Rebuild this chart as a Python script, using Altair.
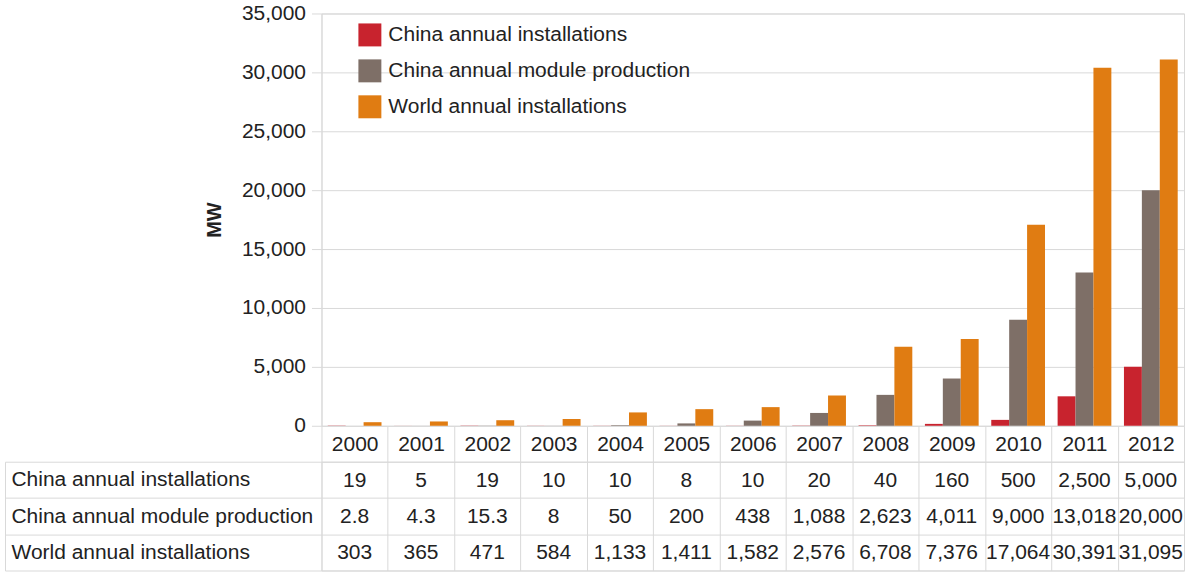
import altair as alt
import pandas as pd

years = ["2000", "2001", "2002", "2003", "2004", "2005", "2006",
         "2007", "2008", "2009", "2010", "2011", "2012"]
series = ["China annual installations",
          "China annual module production",
          "World annual installations"]
china_installations = [19, 5, 19, 10, 10, 8, 10, 20, 40, 160, 500, 2500, 5000]
china_module_production = [2.8, 4.3, 15.3, 8, 50, 200, 438, 1088, 2623, 4011,
                           9000, 13018, 20000]
world_installations = [303, 365, 471, 584, 1133, 1411, 1582, 2576, 6708, 7376,
                       17064, 30391, 31095]
colors = ["#C8232E", "#7E6F67", "#E07C12"]


def fmt(v):
    if float(v).is_integer():
        return f"{int(v):,}"
    return str(v)


rows = []
for s, vals in zip(series, [china_installations, china_module_production,
                            world_installations]):
    for yr, v in zip(years, vals):
        rows.append({"year": yr, "series": s, "value": v, "label": fmt(v)})
df = pd.DataFrame(rows)

grid = "#d9d9d9"
font = "Liberation Sans"
txt = "#222222"

bars = alt.Chart(df).mark_bar().encode(
    x=alt.X("year:N", sort=years, axis=None,
            scale=alt.Scale(paddingInner=0.19, paddingOuter=0.095)),
    xOffset=alt.XOffset("series:N", sort=series,
                        scale=alt.Scale(paddingInner=0, paddingOuter=0)),
    y=alt.Y("value:Q", scale=alt.Scale(domain=[0, 35000], nice=False),
            axis=alt.Axis(values=list(range(0, 35001, 5000)), format=",.0f",
                          title="MW", titleFontSize=20, titleFontWeight="bold",
                          titlePadding=17, labelFontSize=21, labelPadding=6,
                          tickSize=10, tickColor=grid, domainColor=grid,
                          gridColor=grid)),
    color=alt.Color("series:N", sort=series,
                    scale=alt.Scale(domain=series, range=colors),
                    legend=alt.Legend(title=None, orient="none", legendX=37,
                                      legendY=10, symbolType="square",
                                      symbolSize=529, labelFontSize=21,
                                      rowPadding=13, labelOffset=7,
                                      symbolStrokeWidth=0, symbolOpacity=1,
                                      labelLimit=400, labelColor=txt)),
).properties(width=864, height=413)

table_text = alt.Chart(df).mark_text(fontSize=21, font=font, color=txt,
                                     dy=1).encode(
    x=alt.X("year:N", sort=years,
            scale=alt.Scale(paddingInner=0, paddingOuter=0),
            axis=alt.Axis(orient="top", title=None, labelAngle=0,
                          tickBand="extent", tickSize=36, tickColor=grid,
                          labelPadding=-19, labelBaseline="middle",
                          labelFontSize=21, grid=True, gridColor=grid,
                          domain=False)),
    y=alt.Y("series:N", sort=series,
            scale=alt.Scale(paddingInner=0, paddingOuter=0),
            axis=alt.Axis(title=None, tickBand="extent", tickSize=317,
                          tickColor=grid, labelAlign="left", labelPadding=-6,
                          labelFontSize=21, grid=True, gridColor=grid,
                          domain=False, labelLimit=320)),
    text="label:N",
)

border = alt.Chart(df).mark_point(opacity=0).encode(
    y=alt.Y("series:N", sort=series,
            axis=alt.Axis(orient="left", offset=317, domain=True,
                          domainColor=grid, labels=False, ticks=False,
                          grid=False, title=None)),
)

table = alt.layer(table_text, border).resolve_scale(y="independent").properties(
    width=864, height=109)

chart = alt.vconcat(bars, table, spacing=-12).resolve_legend(
    color="independent"
).configure(
    padding={"left": 4, "top": 1, "right": 3, "bottom": 1}, font=font
).configure_view(stroke=grid).configure_axis(
    labelColor=txt, titleColor=txt, labelFont=font, titleFont=font
).configure_legend(labelFont=font)

chart.save("out.html", embed_options={"renderer": "svg", "actions": False})
